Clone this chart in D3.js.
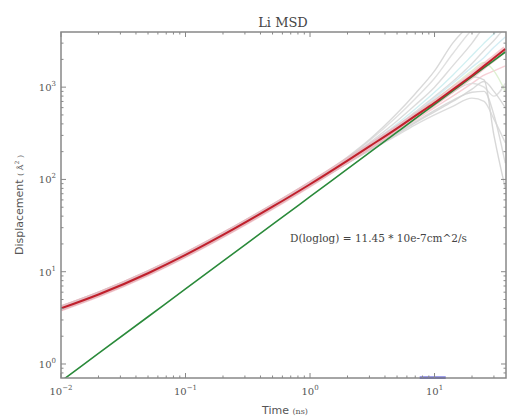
<html>
    <head>
        <script src="https://d3js.org/d3.v7.min.js"></script>
        <style>
            body{ margin:0; background:#fff; }
            text{ font-family:"DejaVu Serif", serif; }
        </style>
    </head>
    <body>
        <svg id="svg" width="507" height="419"></svg>
        <script>
            // time points (ns) shared by all msd series
            var times = [0.01, 0.02, 0.05, 0.1, 0.2, 0.5, 1, 2, 3, 5, 7, 10, 14, 20, 25, 30, 37];
            // mean msd (red)
            var meanMsd = [4.0, 5.66, 9.63, 15.2, 25.0, 50.6, 88.7, 160, 228, 358, 488, 677, 942, 1335, 1700, 2069, 2595];
            // loglog fit (green)
            var fitMsd = [0.65, 1.3, 3.25, 6.5, 13, 32.5, 65, 130, 195, 325, 455, 650, 910, 1300, 1625, 1950, 2405];
            // single-ion trajectories
            var trajMsd = [
                [4.15, 5.9, 10.0, 15.8, 26, 52.6, 92.5, 168, 250, 430, 640, 1000, 1700, 3000, 4500, 5500, 7000],
                [4.24, 6.0, 10.2, 16.1, 26.5, 53.6, 94, 171, 262, 480, 750, 1250, 2300, 4200, 5500, 6500, 8000],
                [4.24, 6.0, 10.2, 16.1, 26.5, 53.6, 94, 175, 270, 520, 850, 1500, 3000, 5000, 6500, 7500, 9000],
                [4.08, 5.77, 9.8, 15.5, 25.5, 51.6, 90.5, 164, 240, 400, 580, 880, 1350, 2200, 3000, 3800, 4800],
                [4.08, 5.77, 9.8, 15.5, 25.5, 51.6, 90.5, 164, 236, 380, 540, 790, 1150, 1800, 2500, 3200, 4500],
                [3.84, 5.43, 9.25, 14.6, 24, 48.6, 85.1, 152, 214, 330, 440, 600, 800, 1100, 1350, 1500, 1700],
                [3.84, 5.43, 9.25, 14.6, 24, 48.6, 85.1, 150, 210, 320, 420, 560, 720, 880, 900, 500, 150],
                [3.92, 5.55, 9.44, 14.9, 24.5, 49.6, 86.9, 156, 222, 340, 460, 640, 880, 1100, 1000, 800, 1100],
                [4.0, 5.66, 9.63, 15.2, 25.0, 50.6, 88.7, 160, 226, 350, 480, 690, 950, 1300, 1200, 300, 80],
                [4.08, 5.77, 9.8, 15.5, 25.5, 51.6, 90.5, 164, 232, 360, 500, 720, 1030, 1500, 1850, 1500, 900],
                [3.84, 5.43, 9.25, 14.6, 24, 48.6, 85.1, 150, 205, 300, 390, 500, 620, 760, 700, 450, 250],
                [3.92, 5.55, 9.44, 14.9, 24.5, 49.6, 86.9, 156, 224, 345, 470, 660, 930, 1350, 1650, 1900, 2400],
                [3.84, 5.43, 9.25, 14.6, 24, 48.6, 85.1, 150, 208, 310, 410, 540, 700, 950, 1150, 900, 600],
                [4.15, 5.9, 10.0, 15.8, 26, 52.6, 92.5, 168, 244, 370, 520, 760, 1100, 1650, 2100, 2700, 3500]
            ];
            var trajColors = ["#d6d6d6", "#dadada", "#d2d2d2", "#c9ecef", "#d8d8d8", "#f6c8cf", "#d4d4d4",
                              "#dadada", "#d0d0d0", "#d9efcb", "#d6d6d6", "#f3d0d6", "#d2d2d2", "#cdeaf2"];
            var blueSeg = [[7.6, 0.71], [12.3, 0.71]];
            var xTicks = [0.01, 0.1, 1, 10];
            var xTickExp = ["\u22122", "\u22121", "0", "1"];
            var yTicks = [1, 10, 100, 1000];
            var yTickExp = ["0", "1", "2", "3"];
            var noteText = "D(loglog) = 11.45 * 10e-7cm^2/s";

            var svg = d3.select("svg");
            var margin = {top: 32, right: 1, bottom: 41, left: 61};
            var width = +svg.attr("width") - margin.left - margin.right;
            var height = +svg.attr("height") - margin.top - margin.bottom;

            var x = d3.scaleLog().domain([0.01, 37.5]).range([margin.left, margin.left + width]);
            var y = d3.scaleLog().domain([0.705, 3960]).range([margin.top + height, margin.top]);

            svg.append("clipPath").attr("id", "clip")
               .append("rect").attr("x", margin.left).attr("y", margin.top)
               .attr("width", width).attr("height", height);

            var line = d3.line().x(function(d){ return x(d[0]); }).y(function(d){ return y(d[1]); })
                                .curve(d3.curveMonotoneX);
            var pairs = function(vals){ return times.map(function(t, i){ return [t, vals[i]]; }); };

            var plot = svg.append("g").attr("clip-path", "url(#clip)");

            trajMsd.forEach(function(vals, i){
                plot.append("path").attr("d", line(pairs(vals)))
                    .attr("fill", "none").attr("stroke", trajColors[i])
                    .attr("stroke-width", 1.4).attr("opacity", 0.85);
            });

            // halo under the mean
            plot.append("path").attr("d", line(pairs(meanMsd)))
                .attr("fill", "none").attr("stroke", "#f2a7b0").attr("stroke-width", 6).attr("opacity", 0.6);
            plot.append("path").attr("d", line(pairs(fitMsd)))
                .attr("fill", "none").attr("stroke", "#2a8a3a").attr("stroke-width", 1.6);
            plot.append("path").attr("d", line(pairs(meanMsd)))
                .attr("fill", "none").attr("stroke", "#c0202c").attr("stroke-width", 2);

            svg.append("path").attr("d", d3.line().x(function(d){ return x(d[0]); }).y(function(d){ return y(d[1]); })(blueSeg))
               .attr("stroke", "#4a4ad8").attr("stroke-width", 2.5).attr("fill", "none");

            // frame
            svg.append("rect").attr("x", margin.left).attr("y", margin.top)
               .attr("width", width).attr("height", height)
               .attr("fill", "none").attr("stroke", "#888").attr("stroke-width", 1.5);

            // ticks inward on all sides
            var minorX = [], minorY = [];
            [0.01, 0.1, 1, 10].forEach(function(b){ for(var k=2;k<10;k++){ if(b*k<=37.5) minorX.push(b*k); } });
            [0.1, 1, 10, 100, 1000].forEach(function(b){ for(var k=2;k<10;k++){ var v=b*k; if(v>=0.705 && v<=3960) minorY.push(v); } });
            var tickG = svg.append("g").attr("stroke", "#888").attr("stroke-width", 1);
            var drawX = function(vals, len){
                vals.forEach(function(v){
                    tickG.append("line").attr("x1", x(v)).attr("x2", x(v))
                         .attr("y1", margin.top + height).attr("y2", margin.top + height - len);
                    tickG.append("line").attr("x1", x(v)).attr("x2", x(v))
                         .attr("y1", margin.top).attr("y2", margin.top + len);
                });
            };
            var drawY = function(vals, len){
                vals.forEach(function(v){
                    tickG.append("line").attr("y1", y(v)).attr("y2", y(v))
                         .attr("x1", margin.left).attr("x2", margin.left + len);
                    tickG.append("line").attr("y1", y(v)).attr("y2", y(v))
                         .attr("x1", margin.left + width).attr("x2", margin.left + width - len);
                });
            };
            drawX(xTicks, 5); drawX(minorX, 2.5);
            drawY(yTicks, 5); drawY(minorY, 2.5);

            // tick labels
            xTicks.forEach(function(v, i){
                var t = svg.append("text").attr("x", x(v)).attr("y", 395)
                           .attr("text-anchor", "middle").attr("font-size", 10).attr("fill", "#555");
                t.append("tspan").text("10");
                t.append("tspan").attr("dy", -5).attr("font-size", 7).text(xTickExp[i]);
            });
            yTicks.forEach(function(v, i){
                var t = svg.append("text").attr("x", 56).attr("y", y(v) + 4)
                           .attr("text-anchor", "end").attr("font-size", 10).attr("fill", "#555");
                t.append("tspan").text("10");
                t.append("tspan").attr("dy", -5).attr("font-size", 7).text(yTickExp[i]);
            });

            // title and axis labels
            svg.append("text").attr("x", 283).attr("y", 27).attr("text-anchor", "middle")
               .attr("font-size", 13).attr("fill", "#444").text("Li MSD");

            var xl = svg.append("text").attr("x", 285).attr("y", 414).attr("text-anchor", "middle")
               .attr("fill", "#555").attr("font-size", 11);
            xl.append("tspan").attr("font-family", "DejaVu Sans, sans-serif").text("Time ");
            xl.append("tspan").attr("font-size", 8).text("(ns)");

            var yl = svg.append("text").attr("transform", "translate(23,205) rotate(-90)")
               .attr("text-anchor", "middle").attr("fill", "#555").attr("font-size", 11);
            yl.append("tspan").attr("font-family", "DejaVu Sans, sans-serif").text("Displacement ");
            yl.append("tspan").attr("font-size", 8).text("( \u00c5");
            yl.append("tspan").attr("font-size", 6).attr("dy", -4).text("2");
            yl.append("tspan").attr("font-size", 8).attr("dy", 4).text(" )");

            svg.append("text").attr("x", 290).attr("y", 242).attr("font-size", 10.5)
               .attr("fill", "#444").text(noteText);
        </script>
    </body>
</html>
